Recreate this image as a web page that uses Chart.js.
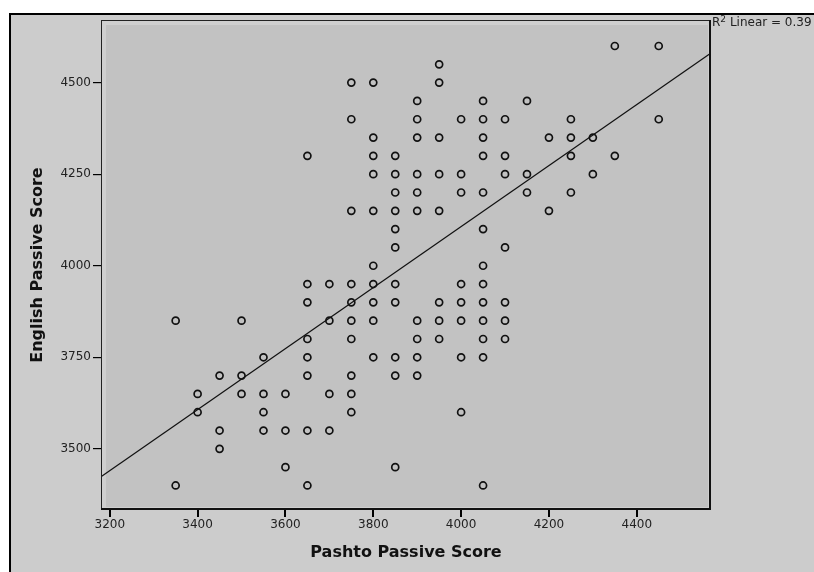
<!DOCTYPE html>
<html lang="en">
<head>
  <meta charset="UTF-8" />
  <title>English vs Pashto Passive Score</title>
  <script src="https://cdn.jsdelivr.net/npm/chart.js"></script>
  <style>
    body { margin: 0; background: #fff; }
    canvas { display: block; }
  </style>
</head>
<body>
  <canvas id="scatter" width="814" height="572"></canvas>

  <script>
    // 50-point steps on both scores
    const pashtoScores = [
      3750, 3800, 3750, 3800, 3650, 3800, 3850, 3800, 3850, 3850, 3750, 3800, 3850, 3850, 3850, 3800,
      4350, 4450, 3950, 3950, 3900, 4050, 4150, 3900, 4000, 4050, 4100, 4250, 4450,
      3900, 3950, 4050, 4200, 4250, 4300, 4050, 4100, 4250, 4350,
      3900, 3950, 4000, 4100, 4150, 4300, 3900, 4000, 4050, 4150, 4250,
      3900, 3950, 4200, 4050, 4100, 4050,
      3650, 3700, 3750, 3800, 3850, 3650, 3750, 3800, 3850,
      3350, 3500, 3700, 3750, 3800, 3650, 3750, 3550, 3650, 3800, 3850,
      3450, 3500, 3650, 3750, 3850, 3400, 3500, 3550, 3600, 3700, 3750,
      3400, 3550, 3750, 3450, 3550, 3600, 3650, 3700, 3450, 3600, 3850, 3350, 3650,
      4000, 4050, 3950, 4000, 4050, 4100, 3900, 3950, 4000, 4050, 4100,
      3900, 3950, 4050, 4100, 3900, 4000, 4050, 3900, 4000, 4050
    ];
    const englishScores = [
      4500, 4500, 4400, 4350, 4300, 4300, 4300, 4250, 4250, 4200, 4150, 4150, 4150, 4100, 4050, 4000,
      4600, 4600, 4550, 4500, 4450, 4450, 4450, 4400, 4400, 4400, 4400, 4400, 4400,
      4350, 4350, 4350, 4350, 4350, 4350, 4300, 4300, 4300, 4300,
      4250, 4250, 4250, 4250, 4250, 4250, 4200, 4200, 4200, 4200, 4200,
      4150, 4150, 4150, 4100, 4050, 4000,
      3950, 3950, 3950, 3950, 3950, 3900, 3900, 3900, 3900,
      3850, 3850, 3850, 3850, 3850, 3800, 3800, 3750, 3750, 3750, 3750,
      3700, 3700, 3700, 3700, 3700, 3650, 3650, 3650, 3650, 3650, 3650,
      3600, 3600, 3600, 3550, 3550, 3550, 3550, 3550, 3500, 3450, 3450, 3400, 3400,
      3950, 3950, 3900, 3900, 3900, 3900, 3850, 3850, 3850, 3850, 3850,
      3800, 3800, 3800, 3800, 3750, 3750, 3750, 3700, 3600, 3400
    ];

    // fit line ends, taken at the plot edges
    const fitX = [3180, 4569];
    const fitY = [3424, 4581];
    const rSquaredText = "0.39";

    const xTicks = [3200, 3400, 3600, 3800, 4000, 4200, 4400];
    const yTicks = [3500, 3750, 4000, 4250, 4500];
    const xRange = [3180, 4569];
    const yRange = [3333, 4671];

    const points = pashtoScores.map((x, i) => ({ x, y: englishScores[i] }));
    const fitLine = fitX.map((x, i) => ({ x, y: fitY[i] }));

    const spssFrame = {
      id: "spssFrame",
      beforeDraw(chart) {
        const { ctx, width, height, chartArea: a } = chart;
        ctx.save();
        ctx.fillStyle = "#fff";
        ctx.fillRect(0, 0, width, height);
        ctx.fillStyle = "#cccccc";
        ctx.fillRect(10, 14, width - 10, height - 14);
        ctx.strokeStyle = "#000";
        ctx.lineWidth = 2;
        ctx.beginPath();
        ctx.moveTo(10, height);
        ctx.lineTo(10, 14);
        ctx.lineTo(width, 14);
        ctx.stroke();
        // plot panel
        ctx.fillStyle = "#cfcfcf";
        ctx.fillRect(a.left, a.top, a.right - a.left, a.bottom - a.top);
        ctx.fillStyle = "#c2c2c2";
        ctx.fillRect(a.left + 5, a.top + 5, a.right - a.left - 8, a.bottom - a.top - 8);
        ctx.restore();
      },
      afterDraw(chart) {
        const { ctx, chartArea: a } = chart;
        ctx.save();
        ctx.strokeStyle = "#222";
        ctx.lineWidth = 1;
        ctx.strokeRect(a.left + 0.5, a.top + 0.5, a.right - a.left - 1, a.bottom - a.top - 1);
        ctx.strokeStyle = "#111";
        ctx.lineWidth = 2;
        ctx.beginPath();
        ctx.moveTo(a.right - 1, a.top);
        ctx.lineTo(a.right - 1, a.bottom - 1);
        ctx.lineTo(a.left, a.bottom - 1);
        ctx.stroke();

        // R² label
        ctx.fillStyle = "#222";
        ctx.textBaseline = "alphabetic";
        ctx.font = "12px 'DejaVu Sans'";
        let x = a.right + 1;
        const y = 26;
        ctx.fillText("R", x, y);
        x += ctx.measureText("R").width;
        ctx.font = "9px 'DejaVu Sans'";
        ctx.fillText("2", x, y - 4);
        x += ctx.measureText("2").width;
        ctx.font = "12px 'DejaVu Sans'";
        ctx.fillText(" Linear = " + rSquaredText, x, y);
        ctx.restore();
      }
    };

    const tickFont = { family: "DejaVu Sans", size: 12 };
    const titleFont = { family: "DejaVu Sans", size: 16, weight: "bold" };
    const plainNumber = v => String(v);

    new Chart(document.getElementById("scatter"), {
      type: "scatter",
      data: {
        datasets: [
          {
            data: points,
            pointRadius: 3.5,
            pointHoverRadius: 3.5,
            borderWidth: 1.7,
            borderColor: "#111",
            backgroundColor: "rgba(0,0,0,0)"
          },
          {
            type: "line",
            data: fitLine,
            showLine: true,
            pointRadius: 0,
            borderWidth: 1.2,
            borderColor: "#111",
            fill: false
          }
        ]
      },
      options: {
        responsive: false,
        animation: false,
        layout: { padding: { top: 20, right: 103, left: 0, bottom: 0 } },
        plugins: { legend: { display: false }, tooltip: { enabled: false } },
        scales: {
          x: {
            type: "linear",
            min: xRange[0],
            max: xRange[1],
            afterBuildTicks: s => { s.ticks = xTicks.map(v => ({ value: v })); },
            afterFit: s => { s.height = 62; },
            grid: { drawOnChartArea: false, tickLength: 7, color: "#000", lineWidth: 2 },
            border: { display: false },
            ticks: { font: tickFont, color: "#222", padding: 1, maxRotation: 0, callback: plainNumber },
            title: {
              display: true,
              text: "Pashto Passive Score",
              font: titleFont,
              color: "#111",
              padding: { top: 0, bottom: 10 }
            }
          },
          y: {
            type: "linear",
            min: yRange[0],
            max: yRange[1],
            afterBuildTicks: s => { s.ticks = yTicks.map(v => ({ value: v })); },
            afterFit: s => { s.width = 101; },
            grid: { drawOnChartArea: false, tickLength: 8, color: "#000", lineWidth: 1.2 },
            border: { display: false },
            ticks: { font: tickFont, color: "#222", padding: 2, callback: plainNumber },
            title: {
              display: true,
              text: "English Passive Score",
              font: titleFont,
              color: "#111",
              padding: { top: 28, bottom: 0 }
            }
          }
        }
      },
      plugins: [spssFrame]
    });
  </script>
</body>
</html>
